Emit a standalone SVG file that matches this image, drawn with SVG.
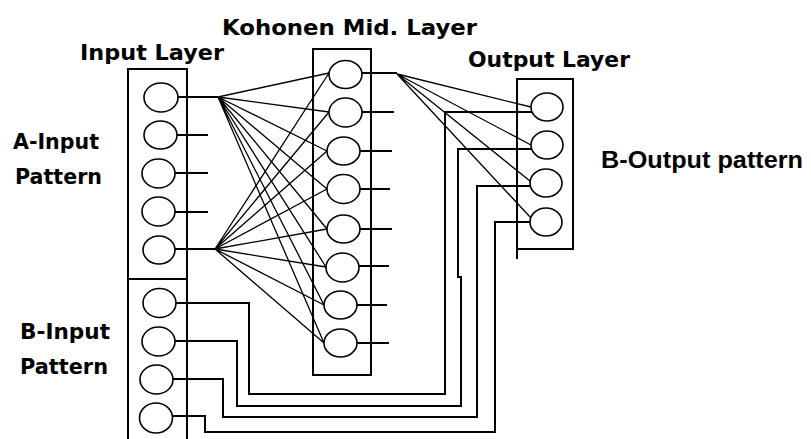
<svg xmlns="http://www.w3.org/2000/svg" width="811" height="439" viewBox="0 0 811 439">
<style>
.t{font-family:"DejaVu Sans","Liberation Sans",sans-serif;font-weight:bold;font-size:22px;fill:#000}
.n{font-family:"Liberation Sans",Arial,sans-serif;font-size:23px}
.box{fill:none;stroke:#000;stroke-width:2}
.c{fill:#fff;stroke:#000;stroke-width:1.6}
.w{fill:none;stroke:#000;stroke-width:2}
.f{fill:none;stroke:#000;stroke-width:1.3}
</style>
<rect width="811" height="439" fill="#fff"/>
<g id="labels">
<text class="t" x="80" y="60" textLength="144" lengthAdjust="spacingAndGlyphs">Input Layer</text>
<text class="t" x="222" y="35" textLength="255" lengthAdjust="spacingAndGlyphs">Kohonen Mid. Layer</text>
<text class="t" x="468" y="67" textLength="162" lengthAdjust="spacingAndGlyphs">Output Layer</text>
<text class="t" x="13" y="149" textLength="86" lengthAdjust="spacingAndGlyphs">A-Input</text>
<text class="t" x="15" y="184" textLength="87" lengthAdjust="spacingAndGlyphs">Pattern</text>
<text class="t" x="20" y="339" textLength="90" lengthAdjust="spacingAndGlyphs">B-Input</text>
<text class="t" x="20" y="374" textLength="88" lengthAdjust="spacingAndGlyphs">Pattern</text>
<text class="t n" x="601" y="168" textLength="202" lengthAdjust="spacingAndGlyphs">B-Output pattern</text>
</g>
<g id="connectors">
<path class="w" d="M178 97H218M177 135H208M175 173H208M175 212H208M175 249H215"/>
<path class="w" d="M361 73H397M361 112H394M359 151H392M359 189H390M359 229H392M358 266H389M356 305H387M356 343H389"/>
<path class="f" d="M218 97L329 73M218 97L329 112M218 97L327 151M218 97L327 189M218 97L327 229M218 97L326 267M218 97L324 305M218 97L324 343"/>
<path class="f" d="M215 249L329 73M215 249L329 112M215 249L327 151M215 249L327 189M215 249L327 229M215 249L326 267M215 249L324 305M215 249L324 343"/>
<path class="f" d="M397 74L531 107M397 74L531 145M397 74L530 181M397 74L531 218"/>
<path class="w" d="M176 303H249V394H445V112H532"/>
<path class="w" d="M175 341H237V406H461V277H458V149H531"/>
<path class="w" d="M173 379H223V417H477V186H531"/>
<path class="w" d="M173 416H205V432H495V222H531"/>
</g>
<g id="input-layer">
<path class="box" d="M128 439V69H187V439M128 279H187"/>
<ellipse class="c" cx="161" cy="97.5" rx="17" ry="14.5"/>
<ellipse class="c" cx="160.5" cy="135" rx="16.5" ry="14"/>
<ellipse class="c" cx="158.5" cy="173.5" rx="16.5" ry="14.5"/>
<ellipse class="c" cx="158.5" cy="211.5" rx="16.5" ry="14.5"/>
<ellipse class="c" cx="159" cy="250" rx="16" ry="14"/>
<ellipse class="c" cx="159.5" cy="303" rx="16.5" ry="14.5"/>
<ellipse class="c" cx="158.5" cy="341.5" rx="16.5" ry="14.5"/>
<ellipse class="c" cx="156.5" cy="379.5" rx="16.5" ry="14.5"/>
<ellipse class="c" cx="156" cy="418" rx="16.5" ry="15"/>
</g>
<g id="kohonen-layer">
<rect class="box" x="313" y="49" width="58" height="326"/>
<ellipse class="c" cx="345.5" cy="74.5" rx="16.5" ry="14"/>
<ellipse class="c" cx="345.5" cy="112.5" rx="16.5" ry="14.5"/>
<ellipse class="c" cx="343.5" cy="151" rx="16.5" ry="14"/>
<ellipse class="c" cx="343.5" cy="189" rx="16.5" ry="14.5"/>
<ellipse class="c" cx="343.5" cy="229" rx="16.5" ry="14"/>
<ellipse class="c" cx="342.5" cy="267.5" rx="16.5" ry="14.5"/>
<ellipse class="c" cx="340.5" cy="305" rx="16.5" ry="14"/>
<ellipse class="c" cx="340.5" cy="343" rx="16.5" ry="14"/>
</g>
<g id="output-layer">
<path class="box" d="M517 259V79H573V249H517"/>
<ellipse class="c" cx="547" cy="107" rx="16" ry="14"/>
<ellipse class="c" cx="547" cy="145" rx="16" ry="14"/>
<ellipse class="c" cx="546" cy="183" rx="16" ry="14"/>
<ellipse class="c" cx="546" cy="222" rx="16" ry="14"/>
</g>
</svg>
